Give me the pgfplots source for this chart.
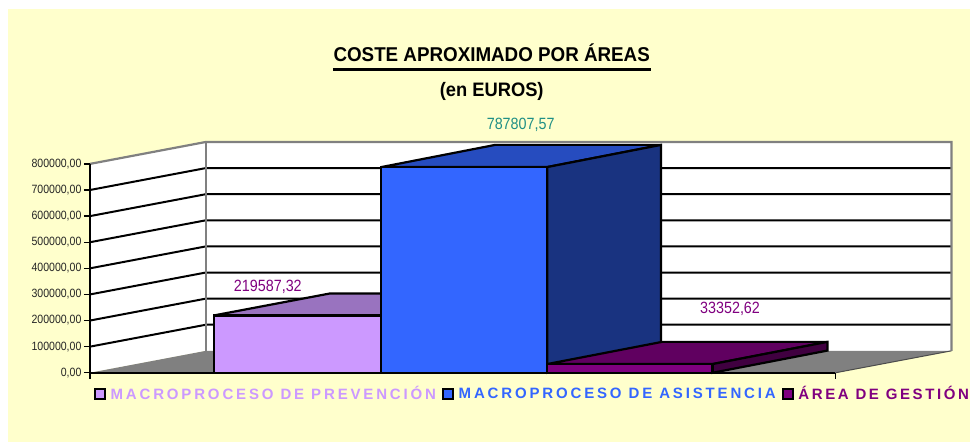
\documentclass[border=0pt]{standalone}
\usepackage{fontspec}
\usepackage{pgfplots}
\pgfplotsset{compat=1.18}
\setmainfont{Liberation Sans}
\newfontfamily\tickfont[FakeStretch=0.88]{Liberation Sans}
\newfontfamily\titlefont[FakeStretch=0.94]{Liberation Sans Bold}
\newfontfamily\legfont[LetterSpace=19]{Liberation Sans Bold}
\newfontfamily\legfontC[LetterSpace=17.5]{Liberation Sans Bold}
\definecolor{paper}{HTML}{FFFFCC}
\definecolor{wallgray}{HTML}{808080}
\definecolor{labA}{HTML}{CC99FF}
\definecolor{labB}{HTML}{3366FF}
\definecolor{labC}{HTML}{800080}
\definecolor{numA}{HTML}{800080}
\definecolor{numB}{HTML}{1F8F85}
\begin{document}
\begin{tikzpicture}
\begin{axis}[
  scale only axis, width=746pt, height=209pt,
  xmin=90, xmax=836, ymin=0, ymax=800000,
  enlargelimits=false, clip=false, axis on top=true,
  axis lines=left, axis line style={-, line width=2.2pt, black},
  xtick={90,836}, xticklabels={}, ymajorticks=true,
  ytick={0,100000,200000,300000,400000,500000,600000,700000,800000},
  tick style={black, line width=1.4pt}, tick align=outside,
  major tick length=6pt,
  scaled y ticks=false,
  yticklabel style={font=\tickfont\fontsize{12}{12}\selectfont, text=black!85, xshift=1pt,
    /pgf/number format/.cd, fixed, fixed zerofill, precision=2, use comma, 1000 sep={}, assume math mode=true},
  legend columns=3,
  legend cell align=left,
  legend style={at={(0.00536,-0.1005)}, anchor=west, draw=none, fill=none, inner sep=0pt, outer sep=0pt,
    font=\legfont\fontsize{15}{15}\selectfont,
    /tikz/every even column/.append style={column sep=4pt}},
]
\addlegendimage{legend image code/.code={\draw[fill=labA,draw=black,line width=2pt] (0pt,-5pt) rectangle (10pt,5pt); \path (13.5pt,0pt);}}
\addlegendentry{\textcolor{labA}{MACROPROCESO DE PREVENCIÓN}}
\addlegendimage{legend image code/.code={\draw[fill=labB,draw=black,line width=2pt] (0pt,-5pt) rectangle (10pt,5pt); \path (13.5pt,0pt);}}
\addlegendentry{\textcolor{labB}{MACROPROCESO DE ASISTENCIA}\hspace{3pt}}
\addlegendimage{legend image code/.code={\draw[fill=labC,draw=black,line width=2pt] (0pt,-5pt) rectangle (10pt,5pt); \path (13.5pt,0pt);}}
\addlegendentry{\legfontC\textcolor{labC}{ÁREA DE GESTIÓN}\hspace{-3pt}}
% page
\addplot[forget plot, fill=white, draw=none] coordinates {(0,1427751)(971,1427751)(971,-264115)(0,-264115)} --cycle;
\addplot[forget plot, fill=paper, draw=none] coordinates {(8,1393301)(971,1393301)(971,-264115)(8,-264115)} --cycle;
% walls
\addplot[forget plot, fill=white, draw=none] coordinates {(206,84000)(952,84000)(952,884000)(206,884000)} --cycle;
\addplot[forget plot, fill=white, draw=none] coordinates {(90,0)(206,84000)(206,884000)(90,800000)} --cycle;
% grid lines
\addplot[forget plot, black, line width=2pt] coordinates {(90,100000)(206,184000)(952,184000)};
\addplot[forget plot, black, line width=2pt] coordinates {(90,200000)(206,284000)(952,284000)};
\addplot[forget plot, black, line width=2pt] coordinates {(90,300000)(206,384000)(952,384000)};
\addplot[forget plot, black, line width=2pt] coordinates {(90,400000)(206,484000)(952,484000)};
\addplot[forget plot, black, line width=2pt] coordinates {(90,500000)(206,584000)(952,584000)};
\addplot[forget plot, black, line width=2pt] coordinates {(90,600000)(206,684000)(952,684000)};
\addplot[forget plot, black, line width=2pt] coordinates {(90,700000)(206,784000)(952,784000)};
% floor
\addplot[forget plot, fill=wallgray, draw=none] coordinates {(90,0)(836,0)(952,84000)(206,84000)} --cycle;
\addplot[forget plot, black!70, line width=1pt] coordinates {(836,0)(952,84000)};
% wall frame
\addplot[forget plot, wallgray, line width=2.2pt] coordinates {(90,800000)(206,884000)(952,884000)(952,84000)};
\addplot[forget plot, wallgray, line width=2.2pt] coordinates {(206,84000)(206,884000)};
% bar 1
\addplot[forget plot, fill=labA!75!black, draw=black, line width=2.2pt] coordinates {(214,219587.32)(330,303587.32)(440,303587.32)(381.5,219587.32)} --cycle;
\addplot[forget plot, fill=labA, draw=black, line width=2.2pt] coordinates {(214,0)(214,219587.32)(381.5,219587.32)(381.5,0)} --cycle;
% bar 2
\addplot[forget plot, fill=labB!75!black, draw=black, line width=2.2pt] coordinates {(381.5,787807.57)(495.5,872807.57)(661.5,872807.57)(547.5,787807.57)} --cycle;
\addplot[forget plot, fill=labB!50!black, draw=black, line width=2.2pt] coordinates {(547.5,0)(547.5,787807.57)(661.5,872807.57)(661.5,85000)} --cycle;
\addplot[forget plot, fill=labB, draw=black, line width=2.2pt] coordinates {(381.5,0)(381.5,787807.57)(547.5,787807.57)(547.5,0)} --cycle;
% bar 3
\addplot[forget plot, fill=labC!75!black, draw=black, line width=2.2pt] coordinates {(547.5,33352.62)(662.5,118352.62)(828,118352.62)(713,33352.62)} --cycle;
\addplot[forget plot, fill=labC!50!black, draw=black, line width=2.2pt] coordinates {(713,0)(713,33352.62)(828,118352.62)(828,85000)} --cycle;
\addplot[forget plot, fill=labC, draw=black, line width=2.2pt] coordinates {(547.5,0)(547.5,33352.62)(713,33352.62)(713,0)} --cycle;
% labels
\node[font=\tickfont\fontsize{16.3}{16}\selectfont, text=numA] at (axis cs:268,329186) {219587,32};
\node[font=\tickfont\fontsize{16.3}{16}\selectfont, text=numB] at (axis cs:521,949282) {787807,57};
\node[font=\tickfont\fontsize{16.3}{16}\selectfont, text=numA] at (axis cs:730.5,244976) {33352,62};
\node[font=\titlefont\fontsize{20}{20}\selectfont] at (axis cs:492,1225000) {COSTE APROXIMADO POR ÁREAS};
\draw[black, line width=2.4pt] (axis cs:333,1161000) -- (axis cs:651,1161000);
\node[font=\titlefont\fontsize{19.5}{20}\selectfont] at (axis cs:492,1079000) {(en EUROS)};
\end{axis}
\end{tikzpicture}
\end{document}
